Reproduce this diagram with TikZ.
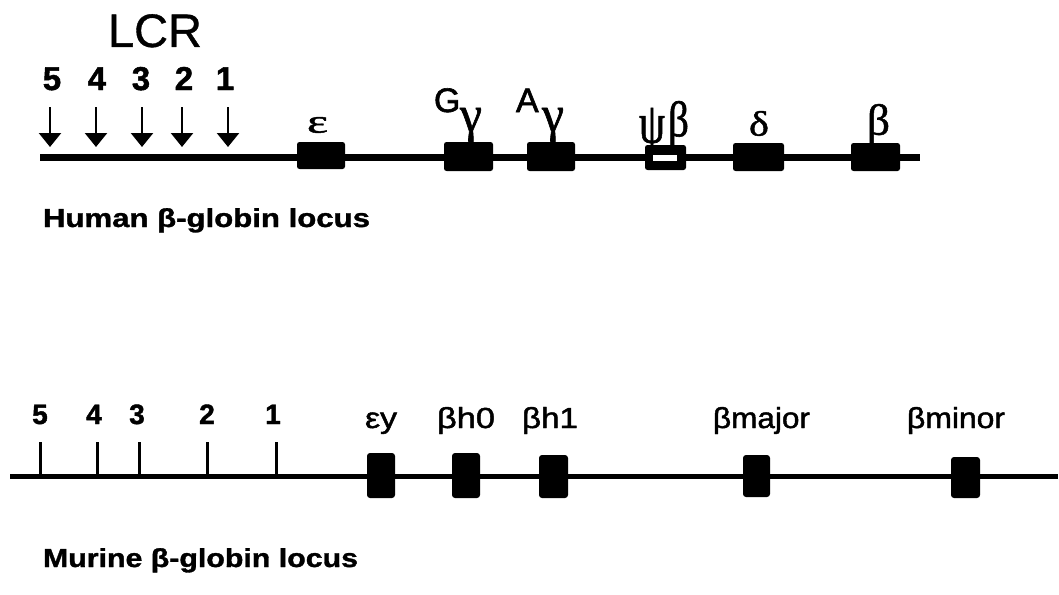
\documentclass[tikz,border=0pt]{standalone}
\usepackage{fontspec}
\setmainfont{Liberation Sans}
\newfontfamily\grk[FakeBold=1.2]{Liberation Serif}
\usetikzlibrary{arrows.meta}
% stretch text horizontally to a given width, keeping its height
\newcommand{\fitw}[2]{\resizebox{#1}{\height}{#2}}
% scale a glyph to a given width and total height
\newcommand{\fitbox}[3]{\resizebox*{#1}{#2}{#3}}
\begin{document}
\begin{tikzpicture}[x=1pt,y=-1pt,
  txt/.style={inner sep=0pt, outer sep=0pt},
  gene/.style={fill=black, inner sep=0pt, outer sep=0pt, rounded corners=2.5pt},
  mgene/.style={fill=black, inner sep=0pt, outer sep=0pt, rounded corners=3pt},
  hchrom/.style={line width=7pt},
  mchrom/.style={line width=5pt},
  lcrarrow/.style={line width=2.5pt, -{Triangle[width=22pt,length=14pt]}},
  tick/.style={line width=3pt},
  hnum/.style={txt, anchor=base, font=\fontsize{33}{34}\selectfont\bfseries\addfontfeature{FakeBold=1.5}},
  mnum/.style={txt, anchor=base, font=\fontsize{28}{30}\selectfont\bfseries\addfontfeature{FakeBold=1.5}},
  mlab/.style={txt, anchor=base west, font=\fontsize{29}{32}\selectfont\addfontfeature{FakeBold=1.5}},
  glab/.style={txt, anchor=base west, font=\fontsize{34}{36}\selectfont\addfontfeature{FakeBold=1.8}},
  title/.style={txt, anchor=base west, font=\fontsize{26}{28}\selectfont\bfseries\addfontfeature{FakeBold=1.2}}
]
\useasboundingbox (0,0) rectangle (1059,594);

% ---------------- human locus ----------------
\coordinate (hL) at (40,157);
\coordinate (hR) at (920,157);
\draw[hchrom] (hL) -- (hR);

\node[txt, anchor=base] (lcr) at (155,47) {\fontsize{47}{50}\selectfont\addfontfeature{FakeBold=0.8}LCR};

\node[hnum] (n5) at (52,90) {5};
\node[hnum] (n4) at (97,90) {4};
\node[hnum] (n3) at (141,90) {3};
\node[hnum] (n2) at (184,90) {2};
\node[hnum] (n1) at (225,90) {1};

\foreach \k/\x in {5/50,4/96,3/142,2/182,1/228}{
  \coordinate (s\k) at (\x,107);
  \coordinate (e\k) at (\x,147);
  \draw[lcrarrow] (s\k) -- (e\k);
}

\node[gene, minimum width=48pt, minimum height=27pt] (heps) at (321,155.5) {};
\node[gene, minimum width=49pt, minimum height=29pt] (hgg) at (468.5,156.5) {};
\node[gene, minimum width=48pt, minimum height=29pt] (hag) at (551,156.5) {};
\node[txt, anchor=south west] (lpsi) at (639,155) {\fitbox{26pt}{47pt}{\grk ψ}};
\node[gene, minimum width=41pt, minimum height=25pt] (hpsi) at (665.5,157.5) {};
\node[fill=white, inner sep=0pt, minimum width=24pt, minimum height=6pt] (hpsislot) at (665,158) {};
\node[gene, minimum width=51pt, minimum height=28pt] (hdel) at (758.5,157) {};
\node[gene, minimum width=49pt, minimum height=28pt] (hbet) at (875.5,157) {};

\node[txt, anchor=south west] (leps) at (307,133) {\fitbox{21pt}{16pt}{\grk ε}};
\node[glab] (lG) at (434,112) {G};
\node[txt, anchor=south west] (lgg) at (460,142) {\fitbox{22pt}{34pt}{\grk γ}};
\node[glab] (lA) at (516,112) {A};
\node[txt, anchor=south west] (lag) at (542,142) {\fitbox{22pt}{34pt}{\grk γ}};
\node[txt, anchor=south west] (lpsib) at (668,147) {\fitbox{21pt}{46pt}{\grk β}};
\node[txt, anchor=south west] (ldel) at (749,136) {\fitbox{20pt}{25pt}{\grk δ}};
\node[txt, anchor=south west] (lbet) at (867,144) {\fitbox{23pt}{40pt}{\grk β}};

\node[title] (htitle) at (43,227) {\fitw{327pt}{Human β-globin locus}};

% ---------------- murine locus ----------------
\coordinate (mL) at (10,476);
\coordinate (mR) at (1058,476);
\draw[mchrom] (mL) -- (mR);

\foreach \k/\x in {5/40,4/97,3/139,2/207,1/276}{
  \coordinate (ta\k) at (\x,442);
  \coordinate (tb\k) at (\x,476);
  \draw[tick] (ta\k) -- (tb\k);
}
\node[mnum] (m5) at (40,424) {5};
\node[mnum] (m4) at (94,424) {4};
\node[mnum] (m3) at (137,424) {3};
\node[mnum] (m2) at (207,424) {2};
\node[mnum] (m1) at (273,424) {1};

\node[mgene, minimum width=28pt, minimum height=45pt] (mey) at (381,475.5) {};
\node[mgene, minimum width=28pt, minimum height=45pt] (mbh0) at (466,475.5) {};
\node[mgene, minimum width=29pt, minimum height=43pt] (mbh1) at (553.5,476.5) {};
\node[mgene, minimum width=27pt, minimum height=42pt] (mbmaj) at (756.5,476) {};
\node[mgene, minimum width=29pt, minimum height=41pt] (mbmin) at (965.5,477.5) {};

\node[mlab] (ley) at (365,428) {\fitw{32pt}{εy}};
\node[mlab] (lbh0) at (437,428) {\fitw{58pt}{βh0}};
\node[mlab] (lbh1) at (522,428) {\fitw{56pt}{βh1}};
\node[mlab] (lbmaj) at (713,428) {\fitw{97pt}{βmajor}};
\node[mlab] (lbmin) at (907,428) {\fitw{98pt}{βminor}};

\node[title] (mtitle) at (43,567) {\fitw{315pt}{Murine β-globin locus}};
\end{tikzpicture}
\end{document}
